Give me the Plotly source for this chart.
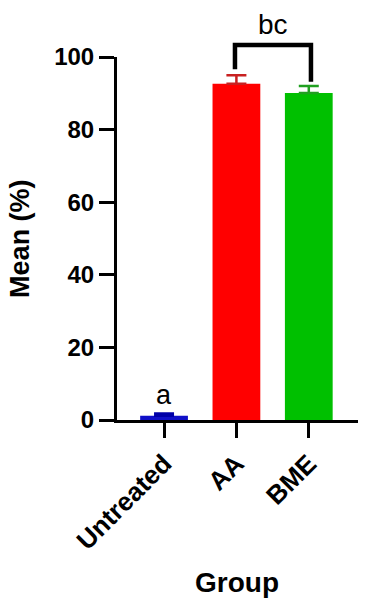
import plotly.graph_objects as go

categories = ["Untreated", "AA", "BME"]
means = [1.2, 92.6, 90.1]
errors = [0.6, 2.4, 1.9]
bar_colors = ["#1010C8", "#FF0000", "#00C000"]
err_colors = ["#0000A8", "#C82020", "#20A020"]
y_ticks = [0, 20, 40, 60, 80, 100]

# significance annotations
sig_labels = ["a", "bc"]
bracket_x = [0.98, 2.03]
bracket_top = 103.3
bracket_leg_bottoms = [96.6, 93.2]

Y_MAX = 100
FONT = "Liberation Sans, Arial, sans-serif"

fig = go.Figure()
for cat, m, e, bc, ec in zip(categories, means, errors, bar_colors, err_colors):
    fig.add_trace(go.Bar(
        x=[cat], y=[m], width=0.66,
        marker=dict(color=bc, line=dict(width=0)),
        error_y=dict(type="data", symmetric=False, array=[e], arrayminus=[0],
                     color=ec, thickness=2.5, width=10),
        showlegend=False,
    ))

# bracket between AA and BME (paper y so it is drawn above the axis range)
bx0, bx1 = bracket_x
ytop = bracket_top / Y_MAX
fig.add_shape(type="path", xref="x", yref="paper",
              path=f"M {bx0} {bracket_leg_bottoms[0]/Y_MAX} L {bx0} {ytop} L {bx1} {ytop} L {bx1} {bracket_leg_bottoms[1]/Y_MAX}",
              line=dict(color="black", width=4.5))

fig.add_annotation(x=(bx0 + bx1) / 2, y=109 / Y_MAX, xref="x", yref="paper",
                   text=sig_labels[1], showarrow=False,
                   font=dict(family=FONT, size=28, color="black"), yanchor="middle")
fig.add_annotation(x=categories[0], y=(means[0] + errors[0] + 0.5) / Y_MAX, xref="x", yref="paper",
                   text=sig_labels[0], showarrow=False,
                   font=dict(family=FONT, size=27, color="black"), yanchor="bottom")

# axis titles
fig.add_annotation(x=0.498, y=-0.447, xref="paper", yref="paper", text="Group",
                   showarrow=False, font=dict(family=FONT, size=28, color="black", weight="bold"),
                   xanchor="center", yanchor="middle")
fig.add_annotation(x=-0.405, y=0.5, xref="paper", yref="paper", text="Mean (%)",
                   showarrow=False, textangle=-90,
                   font=dict(family=FONT, size=27, color="black", weight="bold"),
                   xanchor="center", yanchor="middle")

fig.update_layout(
    width=367, height=602,
    margin=dict(l=117, r=9, t=57, b=182, autoexpand=False),
    plot_bgcolor="white", paper_bgcolor="white",
    font=dict(family=FONT, color="black"),
    bargap=0.34,
)
fig.update_xaxes(
    type="category", range=[-0.65, 2.68],
    showline=True, linecolor="black", linewidth=3,
    ticks="outside", ticklen=15, tickwidth=3, tickcolor="black",
    tickangle=-45, tickfont=dict(family=FONT, size=26, color="black", weight="bold"),
    showgrid=False, zeroline=False, automargin=False,
)
fig.update_yaxes(
    range=[0, Y_MAX], tickvals=y_ticks,
    showline=True, linecolor="black", linewidth=3,
    ticks="outside", ticklen=15, tickwidth=3, tickcolor="black",
    tickfont=dict(family=FONT, size=24, color="black", weight="bold"),
    showgrid=False, zeroline=False, automargin=False,
)

fig.write_html("out.html")
